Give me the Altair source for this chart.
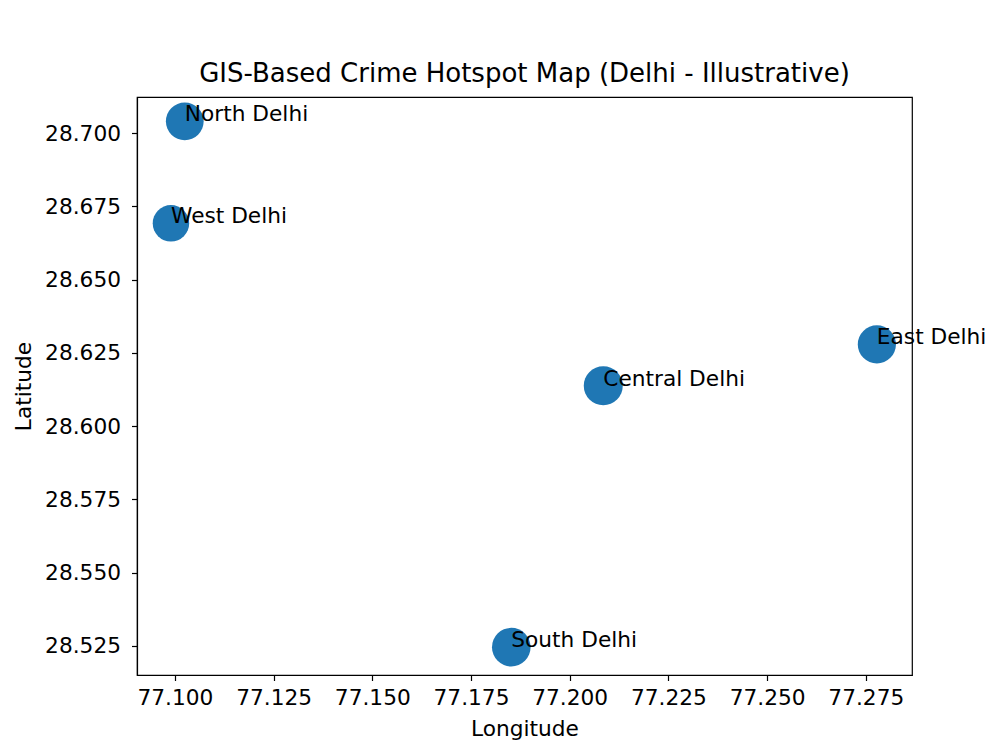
import altair as alt
import pandas as pd

areas = ["North Delhi", "West Delhi", "Central Delhi", "East Delhi", "South Delhi"]
longitudes = [77.1025, 77.0990, 77.2085, 77.2778, 77.1852]
latitudes = [28.7040, 28.6692, 28.6138, 28.6279, 28.5246]
crime_counts = [450, 420, 480, 460, 470]

x_ticks = [77.100, 77.125, 77.150, 77.175, 77.200, 77.225, 77.250, 77.275]
y_ticks = [28.525, 28.550, 28.575, 28.600, 28.625, 28.650, 28.675, 28.700]

df = pd.DataFrame({"area": areas, "lon": longitudes, "lat": latitudes, "crimes": crime_counts})

FONT = "DejaVu Sans"

x_enc = alt.X("lon:Q", title="Longitude",
              scale=alt.Scale(domain=[77.0904, 77.2867], nice=False, zero=False),
              axis=alt.Axis(values=x_ticks, format=".3f", grid=False, tickSize=5.5,
                            labelPadding=7, titlePadding=9, labelFontSize=21.7,
                            titleFontSize=21.7, labelFont=FONT, titleFont=FONT,
                            titleFontWeight="normal", labelColor="black", titleColor="black",
                            domainColor="black", tickColor="black", domainWidth=1.2,
                            tickWidth=1.2, labelFlush=False, labelOverlap=False))
y_enc = alt.Y("lat:Q", title="Latitude",
              scale=alt.Scale(domain=[28.5151, 28.7123], nice=False, zero=False),
              axis=alt.Axis(values=y_ticks, format=".3f", grid=False, tickSize=5.5,
                            labelPadding=11, titlePadding=9, labelFontSize=21.7,
                            titleFontSize=21.7, labelFont=FONT, titleFont=FONT,
                            titleFontWeight="normal", labelColor="black", titleColor="black",
                            domainColor="black", tickColor="black", domainWidth=1.2,
                            tickWidth=1.2, labelFlush=False, labelOverlap=False))

base = alt.Chart(df).encode(x=x_enc, y=y_enc)

points = base.mark_circle(color="#1f77b4", opacity=1).encode(
    size=alt.Size("crimes:Q", scale=alt.Scale(domain=[0, 480], range=[0, 1520]), legend=None)
)

labels = base.mark_text(align="left", baseline="alphabetic", font=FONT, fontSize=21.7,
                        color="black").encode(text="area:N")

chart = (points + labels).properties(
    width=775,
    height=578,
    title=alt.TitleParams("GIS-Based Crime Hotspot Map (Delhi - Illustrative)", fontSize=26,
                          font=FONT, fontWeight="normal", color="black", anchor="middle",
                          baseline="alphabetic", offset=14, dy=25),
    autosize=alt.AutoSizeParams(type="none"),
    padding={"left": 129, "top": 89, "right": 80, "bottom": 70},
).configure(background="white", view=alt.ViewConfig(stroke="black", strokeWidth=1.2))

chart.save("out.html", embed_options={"renderer": "svg", "actions": False})
